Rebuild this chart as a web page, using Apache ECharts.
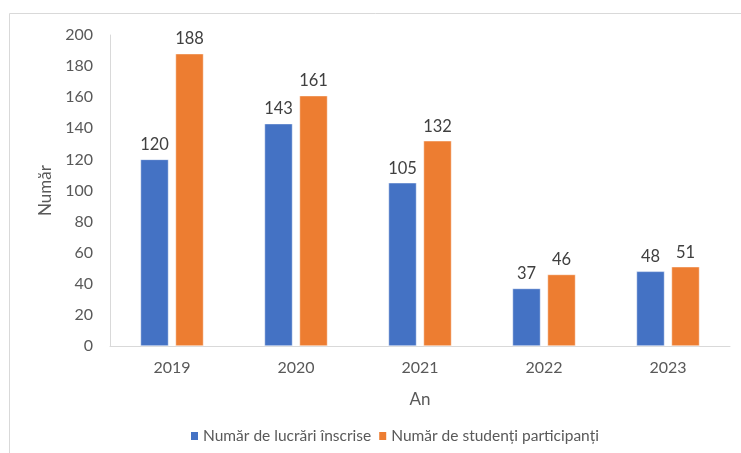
<!DOCTYPE html>
<html>
<head>
<meta charset="utf-8">
<script src="https://cdn.jsdelivr.net/npm/echarts@6/dist/echarts.min.js"></script>
<style>
  html, body { margin: 0; padding: 0; background: #fff; }
  #chart { width: 741px; height: 453px; }
</style>
</head>
<body>
<div id="chart"></div>
<script>
// Data
var years = ['2019', '2020', '2021', '2022', '2023'];
var lucrari = [120, 143, 105, 37, 48];
var studenti = [188, 161, 132, 46, 51];
var seriesNames = ['Număr de lucrări înscrise', 'Număr de studenți participanți'];

var font = 'Lato, "Open Sans", sans-serif';
var textColor = '#595959';

var myChart = echarts.init(document.getElementById('chart'));

var option = {
    animation: false,
    textStyle: { fontFamily: font },
    graphic: [{
        type: 'rect',
        shape: { x: 9.5, y: 13.5, width: 800, height: 500 },
        style: { fill: 'none', stroke: '#d9d9d9', lineWidth: 1 },
        silent: true
    }],
    legend: {
        top: 423,
        left: 184,
        itemWidth: 9,
        itemHeight: 10,
        itemGap: 6,
        icon: 'rect',
        textStyle: { fontFamily: font, fontSize: 15.5, color: textColor, padding: [0, 0, 0, -1] },
        data: seriesNames
    },
    grid: {
        left: 110,
        right: 11,
        top: 35,
        bottom: 107,
        containLabel: false
    },
    xAxis: {
        type: 'category',
        data: years,
        name: 'An',
        nameLocation: 'middle',
        nameGap: 45,
        nameTextStyle: { fontFamily: font, fontSize: 17, color: textColor },
        axisLine: { lineStyle: { color: '#d9d9d9', width: 1 } },
        axisTick: { show: false },
        axisLabel: { fontFamily: font, fontSize: 16, color: textColor, margin: 14 }
    },
    yAxis: {
        type: 'value',
        min: 0,
        max: 200,
        interval: 20,
        name: 'Număr',
        nameLocation: 'middle',
        nameGap: 55,
        nameTextStyle: { fontFamily: font, fontSize: 17, color: textColor },
        axisLine: { show: true, lineStyle: { color: '#d9d9d9', width: 1 } },
        axisTick: { show: false },
        splitLine: { show: false },
        axisLabel: { fontFamily: font, fontSize: 16, color: textColor, margin: 17 }
    },
    series: [{
        name: seriesNames[0],
        type: 'bar',
        data: lucrari,
        barWidth: 28,
        barGap: '25%',
        itemStyle: { color: '#4472C4', borderColor: '#ffffff', borderWidth: 0.5 },
        label: { show: true, position: 'top', distance: 6, fontFamily: font, fontSize: 16.5, color: '#404040' }
    }, {
        name: seriesNames[1],
        type: 'bar',
        data: studenti,
        barWidth: 28,
        itemStyle: { color: '#ED7D31', borderColor: '#ffffff', borderWidth: 0.5 },
        label: { show: true, position: 'top', distance: 6, fontFamily: font, fontSize: 16.5, color: '#404040' }
    }]
};

myChart.setOption(option);
</script>
</body>
</html>
